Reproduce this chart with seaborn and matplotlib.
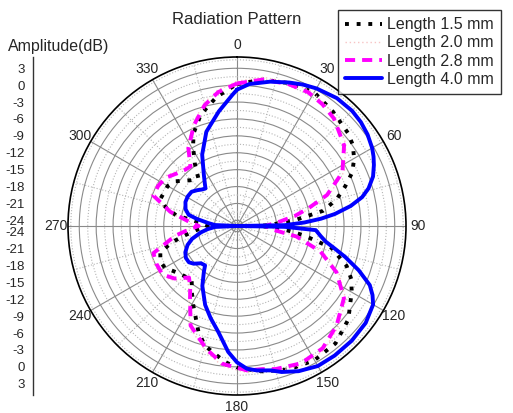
import numpy as np
import matplotlib
matplotlib.use("Agg")
import matplotlib.pyplot as plt
import seaborn as sns

sns.set_style("white")
plt.rcParams["font.family"] = ["Liberation Sans", "DejaVu Sans"]

# ---------------- data ----------------
title = "Radiation Pattern"
amp_label = "Amplitude(dB)"
angle_ticks = [0, 30, 60, 90, 120, 150, 180, 210, 240, 270, 300, 330]
angle_minor = [15, 45, 75, 105, 135, 165, 195, 225, 255, 285, 315, 345]
r_major = [-24, -21, -18, -15, -12, -9, -6, -3, 0, 3]
r_minor = [-22.5, -19.5, -16.5, -13.5, -10.5, -7.5, -4.5, -1.5, 1.5, 4.5]
r_min, r_max = -25, 5

labels = ["Length 1.5 mm", "Length 2.0 mm", "Length 2.8 mm", "Length 4.0 mm"]

# Length 1.5 mm
bk_theta = [0, 10, 20, 30, 40, 50, 55, 60, 65, 70, 75, 80, 84, 88, 90, 92, 95, 98, 103,
            110, 115, 120, 130, 140, 150, 160, 170, 180, 185, 190, 195, 200, 210, 215,
            220, 230, 240, 245, 251, 256, 260, 265, 270, 275, 280, 285, 290, 300, 306,
            315, 321, 326, 331, 335, 342, 351, 360]
bk_db = [0.2, 1.4, 2.0, 2.4, 1.5, 0.7, 0.1, -1.0, -2.4, -4.6, -6.7, -9.5, -14.5, -19.0,
         -21.0, -19.0, -16.0, -13.0, -7.8, -4.3, -2.6, -1.5, 0.8, 2.2, 2.5, 2.1, 1.2, 0.2,
         -0.8, -2.0, -3.0, -5.0, -9.3, -11.0, -12.5, -11.8, -10.2, -10.0, -10.6, -13.1,
         -15.7, -18.0, -19.8, -18.5, -14.0, -11.8, -10.6, -10.8, -11.5, -13.5, -14.1,
         -11.6, -8.9, -6.8, -4.2, -1.8, 0.2]

# Length 2.8 mm (and 2.0 mm on the same angles)
mg_theta = [0, 10, 20, 28, 35, 42, 53, 63, 71, 76, 80, 84, 90, 96, 100, 107, 115, 124,
            135, 145, 155, 165, 170, 176, 186, 194, 205, 213, 218, 223, 230, 237, 245,
            252, 261, 266, 270, 275, 282, 290, 297, 304, 311, 317, 322, 328, 337, 345,
            352, 360]
mg_db = [0.3, 1.4, 1.8, 1.9, 1.4, 0.7, -1.2, -4.0, -8.1, -11.9, -14.5, -17.3, -20.0,
         -18.5, -14.3, -9.5, -5.5, -2.1, 0.0, 1.5, 1.9, 1.3, 0.8, 0.7, -0.4, -2.5, -5.5,
         -9.7, -11.5, -12.5, -10.5, -9.2, -9.2, -9.4, -13.9, -16.5, -18.2, -16.5, -12.9,
         -9.2, -9.3, -9.7, -10.8, -11.4, -11.6, -8.7, -5.5, -2.8, -1.0, 0.3]
pk_db = [0.7, 1.8, 2.2, 2.3, 1.8, 1.1, -0.8, -3.6, -7.6, -11.4, -14.0, -16.8, -19.5,
         -18.0, -13.8, -9.0, -5.0, -1.7, 0.4, 1.9, 2.3, 1.7, 1.2, 1.1, 0.0, -2.1, -5.1,
         -9.3, -11.1, -12.1, -10.1, -8.8, -8.8, -9.0, -13.5, -16.1, -17.8, -16.1, -12.5,
         -8.8, -8.9, -9.3, -10.4, -11.0, -11.2, -8.3, -5.1, -2.4, -0.6, 0.7]

# Length 4.0 mm
bl_theta = [0, 5, 13, 20, 25, 30, 38, 45, 50, 55, 60, 63, 66, 70, 74, 77, 80, 83, 85, 87,
            89, 90, 91, 93, 97, 100, 103, 106, 110, 114, 117, 120, 127, 135, 143, 150,
            157, 163, 167, 172, 176, 180, 184, 190, 196, 202, 210, 216, 219, 224, 229,
            233, 238, 243, 249, 254, 260, 264, 267.5, 270, 272.5, 276, 280, 283, 288,
            295, 301, 307, 312, 316, 320, 323, 327, 334, 342, 351, 358, 360]
bl_db = [-0.8, 0.3, 1.3, 2.1, 2.7, 3.2, 3.8, 3.9, 3.7, 3.3, 2.7, 2.2, 1.6, 0.7, -0.7,
         -2.2, -4.5, -7.5, -10.0, -13.0, -16.5, -25.0, -16.5, -11.0, -10.0, -9.0, -7.2,
         -5.0, -2.0, 0.8, 2.0, 2.9, 3.6, 3.8, 3.8, 3.7, 3.0, 2.1, 1.3, 0.9, 0.4, -0.8,
         -2.6, -5.9, -8.0, -9.9, -12.7, -15.0, -16.0, -15.8, -14.8, -14.3, -14.3, -14.7,
         -15.6, -16.7, -18.5, -19.8, -21.1, -25.0, -21.1, -19.8, -17.8, -16.2, -15.4,
         -14.9, -14.8, -14.9, -15.5, -16.0, -16.3, -15.5, -14.2, -10.9, -7.4, -4.4, -1.7,
         -0.8]

# ---------------- figure ----------------
W, H = 513, 413
fig = plt.figure(figsize=(W / 100, H / 100), dpi=100)
fig.patch.set_facecolor("white")

cx, cy, R = 237, 226, 169
ax = fig.add_axes([(cx - R) / W, (H - cy - R) / H, 2 * R / W, 2 * R / H],
                  projection="polar")
ax.set_theta_zero_location("N")
ax.set_theta_direction(-1)
ax.set_ylim(r_min, r_max)

series = [
    (bk_theta, bk_db, labels[0], "black", 2.8, (0, (1.0, 2.0))),
    (mg_theta, pk_db, labels[1], "#f7c4c4", 1.0, (0, (1.0, 2.0))),
    (mg_theta, mg_db, labels[2], "#ff00ff", 2.8, (0, (2.6, 1.8))),
    (bl_theta, bl_db, labels[3], "#0000ff", 2.8, "-"),
]
for th, db, lab, col, lw, ls in series:
    sns.lineplot(x=np.deg2rad(th), y=db, ax=ax, sort=False, estimator=None,
                 color=col, lw=lw, linestyle=ls, label=lab)

ax.set_xlabel("")
ax.set_ylabel("")
ax.set_xticks(np.deg2rad(angle_ticks))
ax.set_xticklabels([str(a) for a in angle_ticks], fontsize=10)
ax.set_xticks(np.deg2rad(angle_minor), minor=True)
ax.set_yticks(r_major)
ax.set_yticklabels([])
ax.set_yticks(r_minor, minor=True)
ax.tick_params(axis="y", which="both", length=0)
ax.tick_params(axis="x", which="major", direction="inout", length=7, width=1,
               color="black", pad=-2)
ax.tick_params(axis="x", which="minor", direction="inout", length=4, width=0.8,
               color="black")
ax.grid(True, which="major", color="#8a8a8a", linestyle="-", linewidth=0.8)
ax.grid(True, which="minor", color="#b5b5b5", linestyle=":", linewidth=0.8)
ax.spines["polar"].set_color("black")
ax.spines["polar"].set_linewidth(1.2)
ax.set_axisbelow(True)

handles, _ = ax.get_legend_handles_labels()
leg = ax.legend(handles, labels, loc="upper left",
                bbox_to_anchor=(338 / W, 1 - 10 / H), bbox_transform=fig.transFigure,
                frameon=True, fancybox=False, edgecolor="black", fontsize=11.5,
                handlelength=2.3, handletextpad=0.3, borderpad=0.45,
                labelspacing=0.2, borderaxespad=0)
leg.get_frame().set_linewidth(1.0)

# ---------------- amplitude scale on the left ----------------
ax2 = fig.add_axes([33 / W, (H - cy - R) / H, 0.0001, 2 * R / H])
ax2.set_ylim(-(r_max - r_min), r_max - r_min)
pos = [v - r_min for v in r_major] + [-(v - r_min) for v in r_major]
lab = [str(v) for v in r_major] * 2
ax2.set_yticks(pos)
ax2.set_yticklabels(lab, fontsize=9.5)
mpos = [v - r_min for v in r_minor] + [-(v - r_min) for v in r_minor]
ax2.set_yticks(mpos, minor=True)
ax2.set_xticks([])
for s in ["top", "right", "bottom"]:
    ax2.spines[s].set_visible(False)
ax2.spines["left"].set_color("#333333")
ax2.spines["left"].set_linewidth(1.0)
ax2.tick_params(axis="y", which="major", direction="out", length=4, width=1,
                color="#333333", pad=2)
ax2.tick_params(axis="y", which="minor", direction="out", length=2.5, width=0.8,
                color="#333333")
ax2.patch.set_alpha(0)

fig.text(cx / W, 1 - 20 / H, title, ha="center", va="center", fontsize=12)
fig.text(8 / W, 1 - 47 / H, amp_label, ha="left", va="center", fontsize=11.5)

fig.savefig("out.png", dpi=100)
